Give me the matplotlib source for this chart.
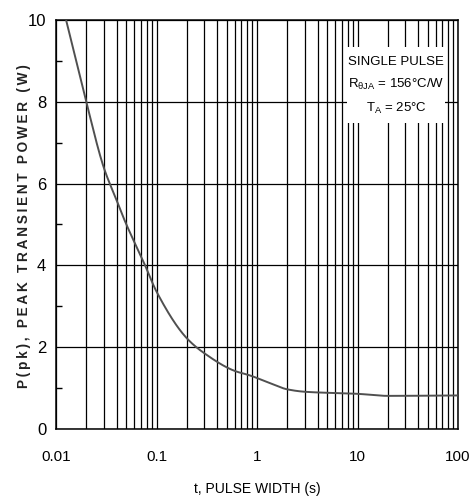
import matplotlib
matplotlib.use("Agg")
import matplotlib.pyplot as plt
from matplotlib.ticker import LogLocator, FixedLocator, NullFormatter
from matplotlib.patches import Rectangle
import numpy as np

# data
pulse_width = [0.0126, 0.02, 0.03, 0.04, 0.048, 0.077, 0.1, 0.2, 0.3,
               0.6, 0.85, 1.35, 2.0, 3.0, 10.0, 20.0, 100.0]
peak_power = [10.0, 8.0, 6.38, 5.6, 5.11, 4.0, 3.36, 2.22, 1.85,
              1.42, 1.31, 1.12, 0.97, 0.91, 0.86, 0.81, 0.82]
x_ticks = [0.01, 0.1, 1, 10, 100]
x_ticklabels = ["0.01", "0.1", "1", "10", "100"]
y_ticks = [0, 2, 4, 6, 8, 10]
y_minor = [1, 3, 5, 7, 9]

plt.rcParams['font.family'] = ["Liberation Sans", "DejaVu Sans"]
plt.rcParams['mathtext.fontset'] = 'custom'
plt.rcParams['mathtext.rm'] = 'Liberation Sans'
plt.rcParams['mathtext.it'] = 'Liberation Sans'

W, H = 474, 497
fig = plt.figure(figsize=(W/100, H/100), dpi=100)
ax = fig.add_axes([56/W, 1 - 429/H, (458-56)/W, (429-20)/H])
ax.set_axisbelow(True)

# monotone cubic (PCHIP) interpolation in log-x space
def pchip(x, y, xn):
    x = np.asarray(x, float); y = np.asarray(y, float)
    h = np.diff(x); d = np.diff(y) / h
    m = np.zeros_like(y)
    for i in range(1, len(y) - 1):
        if d[i-1] * d[i] > 0:
            w1 = 2*h[i] + h[i-1]; w2 = h[i] + 2*h[i-1]
            m[i] = (w1 + w2) / (w1/d[i-1] + w2/d[i])
    m[0] = d[0]; m[-1] = d[-1]
    out = np.empty_like(xn)
    idx = np.clip(np.searchsorted(x, xn) - 1, 0, len(x) - 2)
    for j, (xv, i) in enumerate(zip(xn, idx)):
        t = (xv - x[i]) / h[i]
        h00 = 2*t**3 - 3*t**2 + 1; h10 = t**3 - 2*t**2 + t
        h01 = -2*t**3 + 3*t**2; h11 = t**3 - t**2
        out[j] = h00*y[i] + h10*h[i]*m[i] + h01*y[i+1] + h11*h[i]*m[i+1]
    return out

lx = np.log10(pulse_width)
xs = np.linspace(lx[0], lx[-1], 600)
ys = pchip(lx, peak_power, xs)
ax.plot(10**xs, ys, color="#505050", lw=1.4, zorder=3, solid_capstyle="butt")

ax.set_xscale("log")
ax.set_xlim(0.01, 100)
ax.set_ylim(0, 10)
ax.set_xticks(x_ticks)
ax.set_xticklabels(x_ticklabels)
ax.xaxis.set_minor_locator(LogLocator(base=10, subs=np.arange(2, 10)))
ax.xaxis.set_minor_formatter(NullFormatter())
ax.set_yticks(y_ticks)
ax.yaxis.set_minor_locator(FixedLocator(y_minor))

ax.grid(True, which="major", axis="both", color="black", lw=0.9)
ax.grid(True, which="minor", axis="x", color="black", lw=0.9)
ax.tick_params(axis="x", which="both", length=0, pad=15, labelsize=11)
ax.tick_params(axis="y", which="major", length=0, pad=7, labelsize=12)
ax.tick_params(axis="y", which="minor", direction="in", length=4, width=1, left=True, right=False)
for s in ax.spines.values():
    s.set_linewidth(1.1)
    s.set_color("black")

# white box covering the grid behind the annotation
ax.add_patch(Rectangle((0.724, 0.748), 0.244, 0.186, transform=ax.transAxes,
                       facecolor="white", edgecolor="none", zorder=2))
ax.text(0.846, 0.838, "SINGLE PULSE\n" + r"R$_{\theta JA}$ = 156°C/W" + "\n" + r"T$_{A}$ = 25°C",
        transform=ax.transAxes, ha="center", va="center", fontsize=9.5, linespacing=1.8,
        zorder=4)

ax.set_xlabel("t, PULSE WIDTH (s)", fontsize=10, labelpad=13)
ylab = "P(pk), PEAK TRANSIENT POWER (W)"
fig.text(24/W, 1 - 226/H, "\u2009".join(ylab), rotation=90, ha="center", va="center",
         fontsize=9.8, fontweight="bold", color="#222222")

fig.savefig("out.png", dpi=100, facecolor="white")
